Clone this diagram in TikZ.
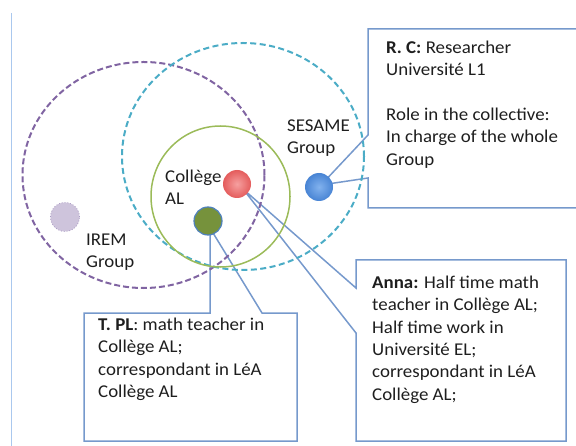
\documentclass[tikz,border=0pt]{standalone}
\usepackage{fontspec}
\setmainfont{Carlito}[FakeStretch=1.05]
\usetikzlibrary{shapes.geometric,backgrounds,calc}
\definecolor{boxline}{RGB}{118,153,204}
\definecolor{iremcol}{RGB}{128,100,162}
\definecolor{sesamecol}{RGB}{75,172,198}
\definecolor{collegecol}{RGB}{155,187,89}
\definecolor{textcol}{RGB}{30,30,30}
\definecolor{leftcol}{RGB}{170,200,238}
\definecolor{greendot}{RGB}{118,146,60}
\definecolor{greenring}{RGB}{79,129,189}
\definecolor{lavfill}{RGB}{206,196,220}
\definecolor{lavline}{RGB}{170,155,195}
\begin{document}
\begin{tikzpicture}[x=1bp,y=-1bp,
  txt/.style={anchor=north west, inner sep=0pt, align=left, text=textcol,
    font=\fontsize{18bp}{22.4bp}\selectfont},
  callout/.style={draw=boxline, line width=1.5bp, line join=miter},
  groupring/.style={ellipse, inner sep=0pt, line width=2bp},
  dot/.style={circle, inner sep=0pt, minimum size=28bp}]
\useasboundingbox (0,0) rectangle (576,446);

% left rule
\draw[leftcol, line width=1bp] (11,13) -- (11,446);

% group rings
\node[groupring, draw=iremcol, dash pattern=on 6bp off 3bp,
  minimum width=242bp, minimum height=226bp] (irem) at (143.5,175) {};
\node[groupring, draw=sesamecol, dash pattern=on 6bp off 3.5bp,
  minimum width=242bp, minimum height=227bp] (sesame) at (243,156.5) {};
\node[groupring, draw=collegecol, line width=1.5bp,
  minimum width=139bp, minimum height=141bp] (college) at (220.5,196.5) {};

% group labels
\node[txt] (sesamelbl) at (287,131-15.68) {\strut SESAME\\Group};
\node[txt] (collegelbl) at (165,182-15.68) {\strut Collège\\AL};
\node[txt] (iremlbl) at (86,245-15.68) {\strut IREM\\Group};

% members
\node[dot, draw=lavline, dotted, line width=0.8bp, fill=lavfill, minimum size=29bp] (lav) at (65,217) {};
\node[dot, shading=radial, inner color={rgb,255:red,246;green,160;blue,160},
  outer color={rgb,255:red,228;green,92;blue,92}] (anna) at (237,184) {};
\node[dot, fill=greendot, draw=greenring, line width=1.2bp] (tpl) at (208,221) {};
\node[dot, shading=radial, inner color={rgb,255:red,130;green,178;blue,238},
  outer color={rgb,255:red,72;green,132;blue,212}] (rc) at (319,187) {};

% callout tips (hidden under the dots)
\coordinate (rctip) at ($(rc.center)+(2,-2)$);
\coordinate (annatip) at ($(anna.center)+(6,5)$);
\coordinate (tpltip) at ($(tpl.center)+(2,7)$);

\begin{pgfonlayer}{background}
\draw[callout] (577,29) -- (368,29) -- (368,135) -- (rctip) -- (368,178) -- (368,208) -- (577,208);
\draw[callout] (356,260) -- (566,260) -- (566,441) -- (356,441) -- (356,333) -- (annatip) -- (356,288) -- cycle;
\draw[callout] (84,313) -- (210,313) -- (tpltip) -- (262,313) -- (297,313) -- (297,441) -- (84,441) -- cycle;
\end{pgfonlayer}

% callout texts
\node[txt] (rctext) at (386,53-15.68) {\strut\textbf{R. C:} Researcher\\Université L1\\[22.4bp]Role in the collective:\\In charge of the whole\\Group};
\node[txt] (annatext) at (372,288-15.68) {\strut\textbf{Anna:} Half time math\\teacher in Collège AL;\\Half time work in\\Université EL;\\correspondant in LéA\\Collège AL;};
\node[txt] (tpltext) at (98,330-15.68) {\strut\textbf{T. PL}: math teacher in\\Collège AL;\\correspondant in LéA\\Collège AL};
\end{tikzpicture}
\end{document}
